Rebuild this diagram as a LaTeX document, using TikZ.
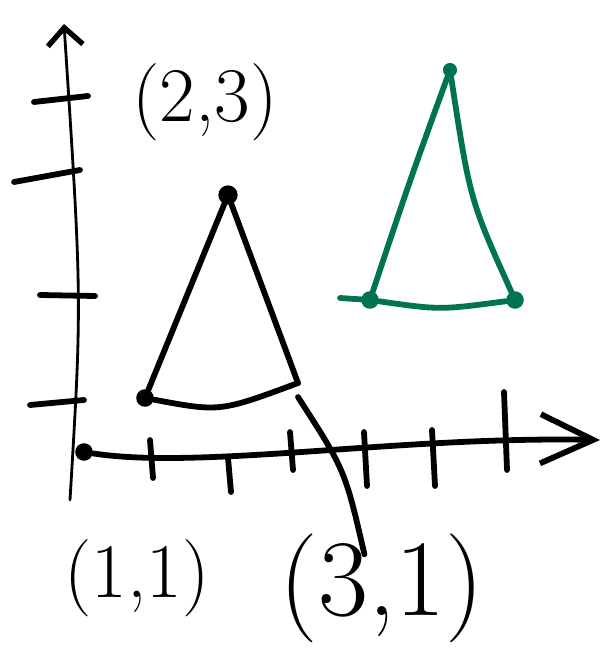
\documentclass[tikz,border=0pt]{standalone}
\usetikzlibrary{positioning, arrows.meta}
\definecolor{sketchgreen}{RGB}{0,116,82}

\tikzset{
  pen/.style={line width=3.3pt, line cap=round, line join=round},
  thinpen/.style={line width=1.6pt, line cap=round, line join=round},
  vdot/.style={circle, fill, inner sep=0pt, minimum size=10pt},
  lbl/.style={inner sep=0pt, font=\fontsize{44}{44}\selectfont},
  biglbl/.style={inner sep=0pt, font=\fontsize{62}{62}\selectfont}
}

\begin{document}
\begin{tikzpicture}[x=0.02cm, y=-0.02cm]
    \useasboundingbox (0,0) rectangle (606,661);

    % Axes
    \node[vdot, minimum size=10pt] (o) at (84,452) {};
    \coordinate (xend) at (600,440);
    \coordinate (ytop) at (64,24);
    \coordinate (ybot) at (70,500);
    \draw[pen, -{Straight Barb[length=30pt, width=28pt, line width=3.3pt]}] (o) .. controls (200,470) and (400,436) .. (xend);
    \draw[thinpen, -{Straight Barb[length=10pt, width=20pt, line width=3pt]}] (ybot) .. controls (82,300) .. (ytop);

    % Ticks on the y axis
    \foreach \xa/\ya/\xb/\yb in {34/102/88/96, 14/182/80/170, 40/295/95/296, 30/405/84/400} {
        \draw[pen] (\xa,\ya) -- (\xb,\yb);
    }

    % Ticks on the x axis
    \foreach \x/\ya/\yb in {150/440/478, 228/458/492, 290/432/470, 364/432/486, 432/430/486, 504/392/470} {
        \draw[pen] (\x,\ya) -- (\x+3,\yb);
    }

    % Black triangle
    \node[vdot] (p11) at (145,398) {};
    \node[vdot, minimum size=11pt] (p23) at (228,195) {};
    \coordinate (p31) at (298,383);
    \draw[pen] (p11) -- (p23) -- (p31);
    \draw[pen] (p11) .. controls (220,412) .. (p31);

    % Labels
    \node[lbl] (l23) at (205,102) {(2,3)};
    \node[lbl] (l11) at (137,578) {(1,1)};
    \node[biglbl] (l31) at (382,588) {(3,1)};
    \draw[pen] ([yshift=-8pt]p31) .. controls (345,470) .. ([xshift=-10pt, yshift=-12pt]l31.north);

    % Green triangle
    \begin{scope}[sketchgreen]
        \node[vdot, minimum size=8pt] (g1) at (450,70) {};
        \node[vdot] (g2) at (370,300) {};
        \node[vdot] (g3) at (515,300) {};
        \draw[pen] (g2) .. controls (410,180) .. (g1);
        \draw[pen] (g1) .. controls (470,200) .. (g3);
        \draw[pen] (g2) .. controls (440,310) .. (g3);
        \draw[pen] (340,298) -- (g2);
    \end{scope}
\end{tikzpicture}
\end{document}
